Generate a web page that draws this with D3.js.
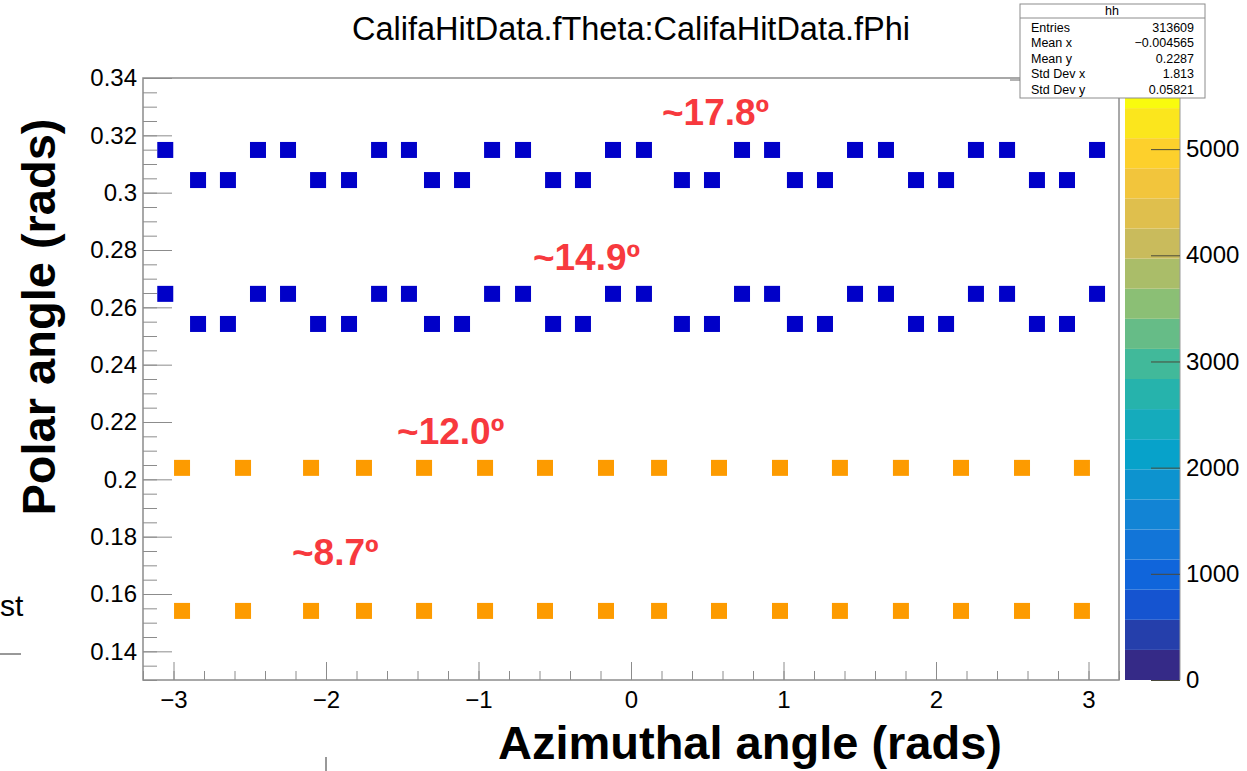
<!DOCTYPE html>
<html>
<head>
<meta charset="utf-8">
<script src="https://cdn.jsdelivr.net/npm/d3@7"></script>
<style>
    body { margin: 0; background: #fff; }
    svg { font-family: "Liberation Sans", Arial, Helvetica, sans-serif; display: block; }
    .axis text { font-size: 24px; fill: #000; }
    .axis line { stroke: #8c8c8c; }
    .axis .domain { display: none; }
    .z-axis line { stroke: #4a4a3a; }
    .stats text { font-size: 12.5px; fill: #000; }
    .ring-label { font-size: 37px; font-weight: bold; fill: #f7393e; }
    .axis-title { font-size: 47px; font-weight: bold; }
</style>
</head>
<body>
<svg id="chart"></svg>
<script>

// values (phi = azimuthal, theta = polar, rads)
const bluePhiUpper = [-3.054, -2.446, -2.249, -1.652, -1.456, -0.911, -0.708, -0.118, 0.085, 0.728, 0.925, 1.469, 1.672, 2.262, 2.466, 3.056]
const bluePhiLower = [-2.839, -2.643, -2.052, -1.849, -1.305, -1.108, -0.511, -0.315, 0.334, 0.531, 1.075, 1.272, 1.869, 2.066, 2.662, 2.859]
const blueThetaUpper = [0.3149, 0.2647]
const blueThetaLower = [0.3044, 0.2542]

const orangePhi = [-2.944, -2.544, -2.098, -1.751, -1.357, -0.957, -0.564, -0.164, 0.184, 0.577, 0.977, 1.370, 1.770, 2.164, 2.564, 2.957]
const orangeTheta = [0.2040, 0.1541]

const ringLabels = ['~17.8º', '~14.9º', '~12.0º', '~8.7º']
const ringLabelPhi = [0.203, -0.643, -1.534, -2.223]
const ringLabelTheta = [0.3236, 0.2730, 0.2123, 0.1701]

const xTicks = [-3, -2, -1, 0, 1, 2, 3]
const yTicks = [0.14, 0.16, 0.18, 0.2, 0.22, 0.24, 0.26, 0.28, 0.3, 0.32, 0.34]
const zTicks = [0, 1000, 2000, 3000, 4000, 5000]
const zMax = 5670
const nContours = 20

const statNames = ['Entries', 'Mean x', 'Mean y', 'Std Dev x', 'Std Dev y']
const statValues = ['313609', '\u22120.004565', '0.2287', '1.813', '0.05821']

// kBird palette stops
const birdStops = [0, 0.125, 0.25, 0.375, 0.5, 0.625, 0.75, 0.875, 1]
const birdR = [0.2082, 0.0592, 0.0780, 0.0232, 0.1802, 0.5301, 0.8186, 0.9956, 0.9764]
const birdG = [0.1664, 0.3599, 0.5041, 0.6419, 0.7178, 0.7492, 0.7328, 0.7862, 0.9832]
const birdB = [0.5293, 0.8684, 0.8385, 0.7914, 0.6425, 0.4662, 0.3499, 0.1968, 0.0539]


class HitMap {

    constructor(config) {
        this.config = {
            parentElement: config.parentElement,
            containerWidth: config.containerWidth || 1247,
            containerHeight: config.containerHeight || 771,
            margin: config.margin || {top: 78, right: 128, bottom: 91, left: 143},
        }
        this.initVis()
    }

    initVis() {
        let vis = this

        vis.width = vis.config.containerWidth - vis.config.margin.left - vis.config.margin.right
        vis.height = vis.config.containerHeight - vis.config.margin.top - vis.config.margin.bottom

        vis.xScale = d3.scaleLinear().domain([-3.2, 3.2]).range([0, vis.width])
        vis.yScale = d3.scaleLinear().domain([0.13, 0.34]).range([vis.height, 0])

        vis.svg = d3.select(vis.config.parentElement)
            .attr('width', vis.config.containerWidth)
            .attr('height', vis.config.containerHeight)

        vis.svg.append('rect')
            .attr('width', vis.config.containerWidth)
            .attr('height', vis.config.containerHeight)
            .attr('fill', '#fff')

        vis.chart = vis.svg.append('g')
            .attr('transform', `translate(${vis.config.margin.left},${vis.config.margin.top})`)

        vis.markerSize = 16

        vis.renderAxes()
        vis.renderVis()
        vis.renderPalette()
        vis.renderStats()
        vis.renderTexts()
    }

    renderAxes() {
        let vis = this

        let xMinor = d3.range(-16, 17).map(d => d / 5)
        let yMinor = d3.range(26, 69).map(d => d / 200)

        vis.chart.append('g')
            .attr('class', 'axis x-axis')
            .attr('transform', `translate(0,${vis.height})`)
            .call(d3.axisBottom(vis.xScale).tickValues(xMinor).tickSize(-9).tickFormat(''))

        vis.chart.append('g')
            .attr('class', 'axis x-axis')
            .attr('transform', `translate(0,${vis.height})`)
            .call(d3.axisBottom(vis.xScale).tickValues(xTicks).tickSize(-18).tickPadding(11).tickFormat(d3.format('d')))

        vis.chart.append('g')
            .attr('class', 'axis y-axis')
            .call(d3.axisLeft(vis.yScale).tickValues(yMinor).tickSize(-14).tickFormat(''))

        vis.chart.append('g')
            .attr('class', 'axis y-axis')
            .call(d3.axisLeft(vis.yScale).tickValues(yTicks).tickSize(-29).tickPadding(6)
                .tickFormat(d => String(+d.toFixed(2))))

        // frame
        vis.chart.append('rect')
            .attr('width', vis.width)
            .attr('height', vis.height)
            .attr('fill', 'none')
            .attr('stroke', '#8c8c8c')
            .attr('stroke-width', 1.5)
    }

    renderVis() {
        let vis = this
        let s = vis.markerSize

        let blue = []
        blueThetaUpper.forEach(t => bluePhiUpper.forEach(p => blue.push({phi: p, theta: t})))
        blueThetaLower.forEach(t => bluePhiLower.forEach(p => blue.push({phi: p, theta: t})))

        let orange = []
        orangeTheta.forEach(t => orangePhi.forEach(p => orange.push({phi: p, theta: t})))

        vis.chart.append('g').selectAll('rect')
            .data(blue)
            .join('rect')
            .attr('x', d => vis.xScale(d.phi) - s / 2)
            .attr('y', d => vis.yScale(d.theta) - s / 2)
            .attr('width', s)
            .attr('height', s)
            .attr('fill', '#0000c8')

        vis.chart.append('g').selectAll('rect')
            .data(orange)
            .join('rect')
            .attr('x', d => vis.xScale(d.phi) - s / 2)
            .attr('y', d => vis.yScale(d.theta) - s / 2)
            .attr('width', s)
            .attr('height', s)
            .attr('fill', '#fd9b00')

        vis.chart.append('g').selectAll('text')
            .data(ringLabels)
            .join('text')
            .attr('class', 'ring-label')
            .attr('x', (d, i) => vis.xScale(ringLabelPhi[i]))
            .attr('y', (d, i) => vis.yScale(ringLabelTheta[i]))
            .text(d => d)
    }

    renderPalette() {
        let vis = this

        let zScale = d3.scaleLinear().domain([0, zMax]).range([vis.height, 0])
        let bird = t => d3.rgb(
            255 * d3.scaleLinear().domain(birdStops).range(birdR)(t),
            255 * d3.scaleLinear().domain(birdStops).range(birdG)(t),
            255 * d3.scaleLinear().domain(birdStops).range(birdB)(t))

        let step = zMax / nContours
        let bands = d3.range(nContours).map(i => ({lo: i * step, hi: (i + 1) * step, i}))

        let pal = vis.chart.append('g')
            .attr('transform', `translate(${vis.width + 6},0)`)

        pal.selectAll('rect')
            .data(bands)
            .join('rect')
            .attr('x', 0)
            .attr('width', 55)
            .attr('y', d => zScale(d.hi))
            .attr('height', d => zScale(d.lo) - zScale(d.hi))
            .attr('fill', d => bird(d.i / (nContours - 1)))

        pal.append('line')
            .attr('x1', 55).attr('x2', 55)
            .attr('y1', 0).attr('y2', vis.height)
            .attr('stroke', '#9a9a9a')

        pal.append('g')
            .attr('class', 'axis z-axis')
            .attr('transform', 'translate(55,0)')
            .call(d3.axisRight(zScale).tickValues(zTicks).tickSize(-29).tickPadding(6).tickFormat(d3.format('d')))
    }

    renderStats() {
        let vis = this

        let box = vis.svg.append('g')
            .attr('class', 'stats')
            .attr('transform', 'translate(1020,4)')

        box.append('rect')
            .attr('width', 185)
            .attr('height', 94)
            .attr('fill', '#fff')
            .attr('stroke', '#8c8c8c')

        box.append('line')
            .attr('x1', 0).attr('x2', 185)
            .attr('y1', 14).attr('y2', 14)
            .attr('stroke', '#8c8c8c')

        box.append('text')
            .attr('x', 92)
            .attr('y', 11)
            .attr('text-anchor', 'middle')
            .text('hh')

        box.selectAll('.stat-name')
            .data(statNames)
            .join('text')
            .attr('class', 'stat-name')
            .attr('x', 11)
            .attr('y', (d, i) => 28 + i * 15.4)
            .text(d => d)

        box.selectAll('.stat-value')
            .data(statValues)
            .join('text')
            .attr('class', 'stat-value')
            .attr('x', 174)
            .attr('y', (d, i) => 28 + i * 15.4)
            .attr('text-anchor', 'end')
            .text(d => d)

        vis.svg.append('line')
            .attr('x1', 1010).attr('x2', 1020)
            .attr('y1', 80).attr('y2', 80)
            .attr('stroke', '#666')
    }

    renderTexts() {
        let vis = this

        vis.svg.append('text')
            .attr('x', 631)
            .attr('y', 40)
            .attr('text-anchor', 'middle')
            .style('font-size', '32.5px')
            .text('CalifaHitData.fTheta:CalifaHitData.fPhi')

        vis.svg.append('text')
            .attr('class', 'axis-title')
            .attr('x', 750)
            .attr('y', 759)
            .attr('text-anchor', 'middle')
            .text('Azimuthal angle (rads)')

        vis.svg.append('text')
            .attr('class', 'axis-title')
            .attr('transform', 'translate(55,317) rotate(-90)')
            .attr('text-anchor', 'middle')
            .text('Polar angle (rads)')

        // bits of neighbouring windows caught in the screenshot
        vis.svg.append('text')
            .attr('x', 0)
            .attr('y', 616)
            .style('font-size', '30px')
            .text('st')

        vis.svg.append('line')
            .attr('x1', 0).attr('x2', 21)
            .attr('y1', 654).attr('y2', 654)
            .attr('stroke', '#333')

        vis.svg.append('line')
            .attr('x1', 326).attr('x2', 326)
            .attr('y1', 757).attr('y2', 771)
            .attr('stroke', '#333')
    }
}

new HitMap({parentElement: '#chart'})

</script>
</body>
</html>
